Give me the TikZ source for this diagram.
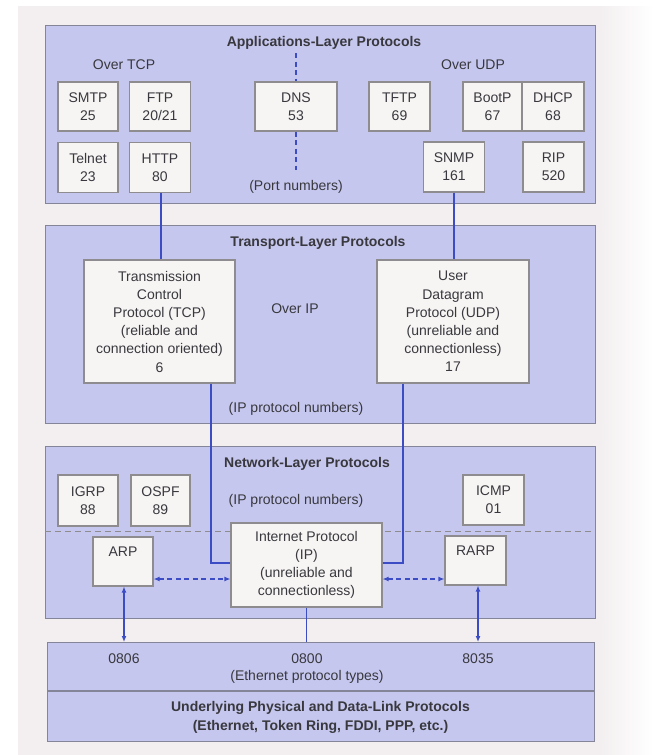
\documentclass[tikz,border=0pt]{standalone}
\usepackage{fontspec}
\setmainfont{Liberation Sans}
\usetikzlibrary{arrows.meta}
\definecolor{paper}{HTML}{F3EFF0}
\definecolor{panelfill}{HTML}{C6C7EE}
\definecolor{panelline}{HTML}{85859A}
\definecolor{boxfill}{HTML}{F7F5F3}
\definecolor{boxline}{HTML}{8E8C8E}
\definecolor{ink}{HTML}{38383E}
\definecolor{link}{HTML}{3B4CC4}
\tikzset{
  every node/.style={font=\fontsize{14}{18.2}\selectfont, text=ink, align=center, inner sep=0pt},
  panel/.style={draw=panelline, fill=panelfill, line width=1.1pt, anchor=north west},
  box/.style={draw=boxline, fill=boxfill, line width=1.1pt},
  title/.style={font=\fontsize{14}{18.2}\selectfont\bfseries},
  wire/.style={draw=link, line width=1.5pt},
  biarrow/.style={wire, {Latex[length=6pt,width=5pt]}-{Latex[length=6pt,width=5pt]}},
  dashwire/.style={wire, dash pattern=on 5pt off 3.5pt},
  divider/.style={draw=boxline, line width=1pt, dash pattern=on 6pt off 4pt}
}
\begin{document}
\begin{tikzpicture}[x=1pt,y=-1pt]
% paper
\fill[white] (0,0) rectangle (653,755);
\fill[paper] (18,6) rectangle (600,755);
\shade[left color=paper, right color=white] (600,6) rectangle (653,755);
\useasboundingbox (0,0) rectangle (653,755);

% ---------- layer panels ----------
\node[panel, minimum width=550pt, minimum height=178pt] (app) at (45,25) {};
\node[panel, minimum width=550pt, minimum height=198pt] (trn) at (45,225) {};
\node[panel, minimum width=550pt, minimum height=172pt] (net) at (45,446) {};
\node[panel, minimum width=547pt, minimum height=99pt] (eth) at (47,642) {};
\coordinate (ethsepL) at (47,691);
\coordinate (ethsepR) at (594,691);
\draw[draw=panelline, line width=1.1pt] (ethsepL) -- (ethsepR);

% ---------- applications layer ----------
\node[title] (apptitle) at (324,43) {Applications-Layer Protocols};
\node (overtcp) at (124,65) {Over TCP};
\node (overudp) at (473,65) {Over UDP};
\node (portnums) at (296,187) {(Port numbers)};

\coordinate (dnstop) at (296,53);
\coordinate (dnsbot) at (296,170);
\node[box, minimum width=82pt, minimum height=49pt] (dns) at (296,106.5) {DNS\\53};
\draw[dashwire] (dnstop) -- (dns.north);
\draw[dashwire] (dns.south) -- (dnsbot);

\node[box, minimum width=60pt, minimum height=49pt] (smtp) at (88,106.5) {SMTP\\25};
\node[box, minimum width=61pt, minimum height=49pt] (ftp) at (160,106.5) {FTP\\20/21};
\node[box, minimum width=60pt, minimum height=50pt] (telnet) at (88,167.5) {Telnet\\23};
\node[box, minimum width=61pt, minimum height=50pt] (http) at (160,167.5) {HTTP\\80};
\node[box, minimum width=61pt, minimum height=49pt] (tftp) at (399.5,106.5) {TFTP\\69};
\node[box, minimum width=59pt, minimum height=49pt] (bootp) at (492.5,106.5) {BootP\\67};
\node[box, minimum width=62pt, minimum height=49pt] (dhcp) at (553,106.5) {DHCP\\68};
\node[box, minimum width=61pt, minimum height=50pt] (snmp) at (454,167) {SNMP\\161};
\node[box, minimum width=61pt, minimum height=50pt] (rip) at (553.5,167) {RIP\\520};

% ---------- transport layer ----------
\node[title] (trntitle) at (318,243) {Transport-Layer Protocols};
\node (overip) at (295,309) {Over IP};
\node (trnnums) at (296,409) {(IP protocol numbers)};
\node[box, minimum width=151pt, minimum height=123pt] (tcp) at (159.5,321.5)
  {Transmission\\Control\\Protocol (TCP)\\(reliable and\\connection oriented)\\6};
\node[box, minimum width=152pt, minimum height=123pt] (udp) at (453,321.5)
  {User\\Datagram\\Protocol (UDP)\\(unreliable and\\connectionless)\\17};

\draw[wire] ([xshift=1pt]http.south) -- ([xshift=1pt]http.south |- tcp.north);
\draw[wire] (snmp.south) -- (snmp.south |- udp.north);

% ---------- network layer ----------
\node[title] (nettitle) at (307,464) {Network-Layer Protocols};
\node (netnums) at (296,501) {(IP protocol numbers)};
\coordinate (divL) at (45,531);
\coordinate (divR) at (595,531);
\draw[divider] (divL) -- (divR);

\node[box, minimum width=60pt, minimum height=51pt] (igrp) at (88,500.5) {IGRP\\88};
\node[box, minimum width=59pt, minimum height=51pt] (ospf) at (160.5,500.5) {OSPF\\89};
\node[box, minimum width=61pt, minimum height=50pt] (icmp) at (493.5,500) {ICMP\\01};

\node[box, minimum width=151pt, minimum height=84pt] (ip) at (306.5,565)
  {Internet Protocol\\(IP)\\(unreliable and\\connectionless)};
\node[box, minimum width=60pt, minimum height=49pt] (arp) at (123,561.5) {};
\node (arplabel) at (123,552) {ARP};
\node[box, minimum width=61pt, minimum height=49pt] (rarp) at (475.5,560.5) {};
\node (rarplabel) at (475.5,551) {RARP};

% TCP and UDP feed down into IP
\draw[wire] ([xshift=51.5pt]tcp.south) |- ([yshift=2pt]ip.west);
\draw[wire] ([xshift=-50pt]udp.south) |- ([yshift=2pt]ip.east);

\draw[dashwire, {Latex[length=6pt,width=5pt]}-{Latex[length=6pt,width=5pt]}]
  ([yshift=-17.5pt]arp.east) -- ([yshift=-17.5pt]arp.east -| ip.west);
\draw[dashwire, {Latex[length=6pt,width=5pt]}-{Latex[length=6pt,width=5pt]}]
  ([yshift=-14pt]ip.east) -- ([yshift=-14pt]ip.east -| rarp.west);

% ---------- link layer ----------
\draw[biarrow] ([xshift=1pt]arp.south) -- ([xshift=1pt]arp.south |- eth.north);
\draw[biarrow] ([xshift=2.5pt]rarp.south) -- ([xshift=2.5pt]rarp.south |- eth.north);
\draw[wire] (ip.south) -- (ip.south |- eth.north);

\node (t0806) at (124,659) {0806};
\node (t0800) at (307,659) {0800};
\node (t8035) at (478,659) {8035};
\node (ethtypes) at (307,677) {(Ethernet protocol types)};
\node[title] (phys) at (320.5,717.5) {Underlying Physical and Data-Link Protocols\\(Ethernet, Token Ring, FDDI, PPP, etc.)};
\end{tikzpicture}
\end{document}
